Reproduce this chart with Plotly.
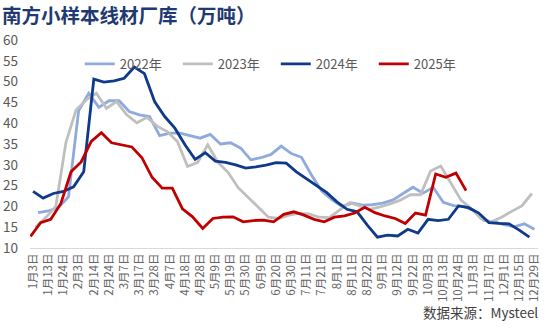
import plotly.graph_objects as go

# Category tick labels (shown every 1.5 weekly observations)
tick_labels = ["1月3日", "1月13日", "1月24日", "2月3日", "2月14日", "2月24日", "3月7日",
               "3月17日", "3月28日", "4月7日", "4月18日", "4月28日", "5月9日", "5月19日",
               "5月30日", "6月9日", "6月20日", "6月30日", "7月11日", "7月21日", "8月1日",
               "8月11日", "8月22日", "9月1日", "9月12日", "9月22日", "10月3日", "10月13日",
               "10月24日", "11月3日", "11月17日", "12月1日", "12月15日", "12月29日"]

# Weekly inventory (万吨)
v2022 = [18.5, 18.9, 19.7, 22.3, 43.0, 47.2, 43.8, 45.4, 45.4, 42.8, 42.0, 41.6, 37.0,
         37.6, 37.6, 37.0, 36.4, 37.3, 35.0, 35.3, 34.0, 31.2, 31.7, 32.5, 34.5, 32.7,
         31.8, 27.5, 23.7, 21.6, 20.0, 20.8, 20.3, 20.4, 20.8, 21.5, 23.0, 24.6, 23.2,
         24.6, 21.0, 20.2, 20.0, 19.0, 16.6, 16.3, 15.6, 15.1, 15.8, 14.5]
v2023 = [15.0, 17.3, 20.0, 35.4, 43.2, 45.6, 47.2, 43.6, 45.2, 42.0, 40.1, 41.4, 39.3,
         38.0, 35.6, 29.6, 30.6, 34.8, 30.6, 28.2, 24.5, 22.2, 19.8, 17.4, 17.1, 17.9,
         18.3, 18.2, 17.4, 17.3, 19.1, 20.9, 20.1, 19.3, 19.9, 20.6, 21.5, 22.8, 22.8,
         28.5, 29.7, 25.5, 21.5, 19.5, 17.0, 16.3, 17.4, 18.8, 20.1, 23.1]
v2024 = [23.6, 22.0, 23.1, 23.6, 24.7, 28.3, 50.6, 49.9, 50.2, 50.8, 53.5, 51.9, 45.2,
         41.6, 38.8, 34.8, 31.3, 32.9, 30.9, 30.6, 30.0, 29.2, 29.5, 29.9, 30.5, 30.4,
         28.3, 26.7, 24.9, 23.3, 21.1, 19.3, 18.7, 15.5, 12.6, 13.1, 12.9, 14.5, 13.6,
         16.9, 16.6, 16.9, 20.1, 19.7, 18.4, 16.1, 15.9, 15.8, 14.3, 12.6]
v2025 = [12.8, 16.1, 16.9, 20.7, 28.3, 30.7, 35.6, 37.7, 35.3, 34.8, 34.3, 31.7, 27.0,
         24.4, 24.4, 19.4, 17.5, 14.7, 17.1, 17.4, 17.5, 16.3, 16.6, 16.7, 16.3, 18.1,
         18.7, 17.9, 16.9, 16.3, 17.4, 17.7, 18.4, 19.8, 18.5, 17.7, 17.1, 15.9, 18.4,
         17.9, 27.8, 27.0, 28.0, 23.8]

series_names = ["2022年", "2023年", "2024年", "2025年"]
series_values = [v2022, v2023, v2024, v2025]
# first observation position on the category axis (in weeks from 1月3日)
series_start = [0.5, 0.25, 0.0, -0.25]
series_colors = ["#8FAADC", "#BFBFBF", "#0F3A8A", "#C00000"]

fig = go.Figure()
for name, vals, start, col in zip(series_names, series_values, series_start, series_colors):
    fig.add_trace(go.Scatter(
        x=[start + i for i in range(len(vals))], y=vals, name=name, mode="lines",
        line=dict(color=col, width=2.8), hoverinfo="skip"))

fig.update_layout(
    width=550, height=329,
    margin=dict(l=30, r=12, t=40, b=81, autoexpand=False),
    paper_bgcolor="white", plot_bgcolor="white",
    font=dict(family="Noto Sans CJK SC", color="#595959"),
    title=dict(text="南方小样本线材厂库（万吨）", x=2 / 550, xref="container", xanchor="left",
               y=1 - 16 / 329, yref="container", yanchor="middle",
               font=dict(family="Noto Sans CJK SC", size=19.5, color="#1F3A70", weight="bold")),
    showlegend=True,
    legend=dict(orientation="h", x=0.098, xanchor="left", y=0.885, yanchor="middle",
                font=dict(size=13, color="#595959"), bgcolor="rgba(0,0,0,0)",
                entrywidth=53, entrywidthmode="pixels", traceorder="normal"),
    xaxis=dict(range=[-0.3, 49.85], tickmode="array", automargin=False,
               tickvals=[1.5 * i for i in range(len(tick_labels))], ticktext=tick_labels,
               tickangle=-90, tickfont=dict(size=11.5, color="#666666"),
               showgrid=False, zeroline=False, showline=True, linecolor="#D9D9D9",
               linewidth=1, ticks=""),
    yaxis=dict(range=[10, 60], dtick=5, tick0=10, showgrid=False, zeroline=False,
               showline=False, ticks="", tickfont=dict(size=13.5, color="#595959"),
               ticklabelstandoff=11, automargin=False),
    annotations=[dict(text="数据来源：Mysteel", xref="paper", yref="paper",
                      x=1.004, y=-0.308, xanchor="right", yanchor="middle", showarrow=False,
                      font=dict(size=13.5, color="#404040"))],
)

fig.write_html("out.html")
